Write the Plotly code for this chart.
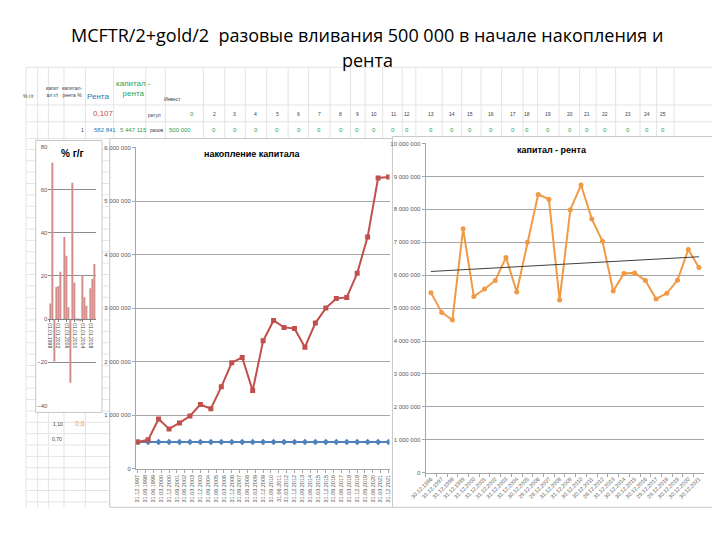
import pandas as pd
import numpy as np
import plotly.graph_objects as go

# ---- data ----
# % г/г (small bar chart)
yoy_pct = [7.3, 72.4, -19.6, 14.9, 15.4, 22.0, 0, 38.0, 29.4, 5.5, -29.5, 63.2,
           17.0, -0.5, -0.4, -1.0, 20.5, 10.2, 6.2, 0, 14.3, 18.6, 25.6]
yoy_ticks = ["01.01.1998", "01.01.2002", "01.01.2006", "01.01.2010", "01.01.2014", "01.01.2018"]
yoy_tick_idx = [0, 4, 8, 12, 16, 20]

# накопление капитала
cap_years = list(range(1997, 2022))
cap_values = [500000, 540000, 930000, 745000, 856000, 985000, 1200000, 1120000,
              1530000, 1980000, 2080000, 1460000, 2390000, 2770000, 2640000,
              2620000, 2270000, 2720000, 3000000, 3180000, 3200000, 3650000,
              4330000, 5430000, 5447115]
invest_values = [500000] * 25
cap_tick_labels = [
    "31.12.1997", "31.09.1998", "31.06.1999", "31.03.2000", "31.12.2000", "31.09.2001",
    "31.06.2002", "31.03.2003", "31.12.2003", "31.09.2004", "31.06.2005", "31.03.2006",
    "31.12.2006", "31.09.2007", "31.06.2008", "31.03.2009", "31.12.2009", "31.09.2010",
    "31.06.2011", "31.03.2012", "31.12.2012", "31.09.2013", "31.06.2014", "31.03.2015",
    "31.12.2015", "31.09.2016", "31.06.2017", "31.03.2018", "31.12.2018", "31.09.2019",
    "31.06.2020", "31.03.2021", "31.12.2021"]

# капитал - рента
rent_dates = [
    "30.12.1996", "31.12.1997", "31.12.1998", "31.12.1999", "31.12.2000", "31.12.2001",
    "31.12.2002", "31.12.2003", "31.12.2004", "30.12.2005", "29.12.2006", "28.12.2007",
    "31.12.2008", "31.12.2009", "30.12.2010", "30.12.2011", "28.12.2012", "31.12.2013",
    "30.12.2014", "30.12.2015", "30.12.2016", "29.12.2017", "29.12.2018", "30.12.2019",
    "30.12.2020", "30.12.2021"]
rent_values = [5470000, 4870000, 4640000, 7410000, 5350000, 5580000, 5840000, 6540000,
               5490000, 7000000, 8450000, 8310000, 5250000, 7990000, 8740000, 7710000,
               7030000, 5520000, 6050000, 6070000, 5840000, 5280000, 5450000, 5850000,
               6780000, 6230000]

# spreadsheet texts
col_numbers = [str(i) for i in range(2, 26)]
col_zeros = ["0"] * 24

# page body has an 8px margin, so the figure is 712x532 and shifted by 8px
OFF = 8
W, H = 720 - OFF, 540 - OFF
def px(x): return (x - OFF) / W
def py(y): return 1 - (y - OFF) / H

GRID = "#a6a6a6"
TICKF = dict(family="Liberation Sans", size=6, color="#595959")

fig = go.Figure()

# chart 1 bars
fig.add_trace(go.Bar(x=list(range(len(yoy_pct))), y=yoy_pct, marker_color="#D38E8B",
                     marker_line_width=0, xaxis="x", yaxis="y", showlegend=False))

# chart 2
cap_dates = [pd.Timestamp(year=y, month=12, day=31) for y in cap_years]
fig.add_trace(go.Scatter(x=cap_dates, y=invest_values, mode="lines+markers",
                         line=dict(color="#4F81BD", width=2),
                         marker=dict(symbol="diamond", size=5, color="#4F81BD"),
                         xaxis="x2", yaxis="y2", showlegend=False))
fig.add_trace(go.Scatter(x=cap_dates, y=cap_values, mode="lines+markers",
                         line=dict(color="#C0504D", width=2),
                         marker=dict(symbol="square", size=5, color="#C0504D"),
                         xaxis="x2", yaxis="y2", showlegend=False))

cap_tickvals = []
for lab in cap_tick_labels:
    _, m, y = lab.split(".")
    cap_tickvals.append(pd.Timestamp(year=int(y), month=int(m), day=1) + pd.offsets.MonthEnd(0))

# chart 3
idx = np.arange(len(rent_values))
k, b = np.polyfit(idx, rent_values, 1)
fig.add_trace(go.Scatter(x=rent_dates, y=rent_values, mode="lines+markers",
                         line=dict(color="#F09A45", width=2),
                         marker=dict(symbol="circle", size=5, color="#F09A45"),
                         xaxis="x3", yaxis="y3", showlegend=False))
fig.add_trace(go.Scatter(x=[rent_dates[0], rent_dates[-1]], y=[b, k * idx[-1] + b],
                         mode="lines", line=dict(color="#404040", width=1),
                         xaxis="x3", yaxis="y3", showlegend=False))

y1_dom = [py(407), py(145)]
fig.update_layout(
    width=W, height=H, margin=dict(l=0, r=0, t=0, b=0),
    paper_bgcolor="white", plot_bgcolor="rgba(0,0,0,0)",
    separators=", ", bargap=0.6,
    xaxis=dict(domain=[px(33), px(82)], range=[-0.8, 22.8], anchor="free",
               position=y1_dom[0] + (y1_dom[1] - y1_dom[0]) / 3,
               tickvals=yoy_tick_idx, ticktext=yoy_ticks, tickangle=90,
               tickfont=dict(family="Liberation Sans", size=5, color="#404040"),
               showline=True, linecolor="#808080", ticks="outside", ticklen=2,
               tickcolor="#808080", showgrid=False, zeroline=False),
    yaxis=dict(domain=y1_dom, range=[-40, 80], dtick=20, anchor="x",
               tickfont=TICKF, showgrid=True, gridcolor="#8c8c8c", gridwidth=1,
               zeroline=False, showline=False, ticklen=0),
    xaxis2=dict(domain=[px(123), px(383)], type="date",
                range=["1997-11-05", "2022-02-03"], anchor="y2",
                tickvals=cap_tickvals, ticktext=cap_tick_labels, tickangle=-90,
                tickfont=dict(family="Liberation Sans", size=5.5, color="#595959"),
                showline=True, linecolor="#a6a6a6", ticks="outside", ticklen=3,
                tickcolor="#a6a6a6", showgrid=False, zeroline=False),
    yaxis2=dict(domain=[py(471), py(146)], range=[0, 6000000], dtick=1000000,
                anchor="x2", tickformat=",d", tickfont=TICKF, showgrid=True,
                gridcolor=GRID, gridwidth=1, showline=True, linecolor="#a6a6a6",
                zeroline=False, ticks="outside", ticklen=3, tickcolor="#a6a6a6"),
    xaxis3=dict(domain=[px(420), px(706)], type="category", range=[-0.5, 25.5],
                anchor="y3", tickangle=-45, tickson="boundaries",
                tickfont=dict(family="Liberation Sans", size=5.5, color="#595959"),
                showline=True, linecolor="#a6a6a6", ticks="outside", ticklen=3,
                tickcolor="#a6a6a6", showgrid=False, zeroline=False),
    yaxis3=dict(domain=[py(475), py(142)], range=[0, 10000000], dtick=1000000,
                anchor="x3", tickformat=",d", tickfont=TICKF, showgrid=True,
                gridcolor=GRID, gridwidth=1, showline=True, linecolor="#a6a6a6",
                zeroline=False, ticks="outside", ticklen=3, tickcolor="#a6a6a6"),
)

# spreadsheet grid + chart frames
shapes = []
cols = [10, 22, 33, 49, 71, 100, 133, 153, 192, 214, 235, 257, 279, 300, 322, 343,
        358, 376, 396, 410, 437, 457, 477, 498, 520, 535, 557, 578, 595, 615, 640,
        657, 675, 715]
rows = [65, 103, 120, 137] + [148 + 11.5 * i for i in range(32)]
for cx in cols:
    shapes.append(dict(type="line", xref="paper", yref="paper", x0=px(cx), x1=px(cx),
                       y0=py(65), y1=py(510), line=dict(color="#e4e4e4", width=1), layer="below"))
for ry in rows:
    shapes.append(dict(type="line", xref="paper", yref="paper", x0=px(10), x1=px(715),
                       y0=py(ry), y1=py(ry), line=dict(color="#e4e4e4", width=1), layer="below"))
for (x0, y0, x1, y1) in [(20, 139, 88, 414), (96, 137, 391, 510), (386, 135, 716, 510)]:
    shapes.append(dict(type="rect", xref="paper", yref="paper", x0=px(x0), x1=px(x1),
                       y0=py(y1), y1=py(y0), fillcolor="white",
                       line=dict(color="#c8c8c8", width=1), layer="below"))
fig.update_layout(shapes=shapes)

ann = []
def txt(t, x, y, size=5, color="#404040", bold=False, family="Liberation Sans", xanchor="center"):
    ann.append(dict(text=f"<b>{t}</b>" if bold else t, x=px(x), y=py(y), xref="paper",
                    yref="paper", showarrow=False, xanchor=xanchor, yanchor="middle",
                    font=dict(family=family, size=size, color=color)))

txt("MCFTR/2+gold/2  разовые вливания 500 000 в начале накопления и", 360, 32, 18,
    "#000000", family="Open Sans")
txt("рента", 360, 58, 18, "#000000", family="Open Sans")

txt("% г/г", 58, 152, 10, "#000000", bold=True)
txt("накопление капитала", 242, 153, 9, "#000000", bold=True)
txt("капитал - рента", 550, 149, 9, "#000000", bold=True)

# table header
txt("% г/г", 13, 94)
txt("капит<br>ал г/г", 38, 89)
txt("капитал-<br>рента %", 58, 89)
txt("Рента", 84, 94, 8, "#2E75B6")
txt("капитал -<br>рента", 120, 86, 8, "#1FA35A")
txt("Инвест", 160, 97)
txt("0,107", 90, 112, 8, "#C0504D")
txt("регул", 142, 113)
txt("0", 180, 112, 6, "#1FA35A")
txt("1", 68, 128)
txt("582 841", 91, 128, 6, "#2E75B6")
txt("5 447 115", 120, 128, 6, "#1FA35A")
txt("разов", 144, 128)
txt("500 000", 168, 128, 6, "#1FA35A")
num_x = [203, 224, 246, 268, 290, 311, 333, 350, 367, 387, 401, 426, 447, 466, 487,
         510, 524, 546, 568, 586, 604, 628, 647, 664]
for n, z, x in zip(col_numbers, col_zeros, num_x):
    txt(n, x, 112, 5, "#404040")
    txt(z, x, 128, 6, "#1FA35A")
txt("1,10", 43, 426)
txt("0,6", 65, 425, 7, "#E8A33D")
txt("0,70", 42, 441)

fig.update_layout(annotations=ann)
fig.write_html("out.html")
